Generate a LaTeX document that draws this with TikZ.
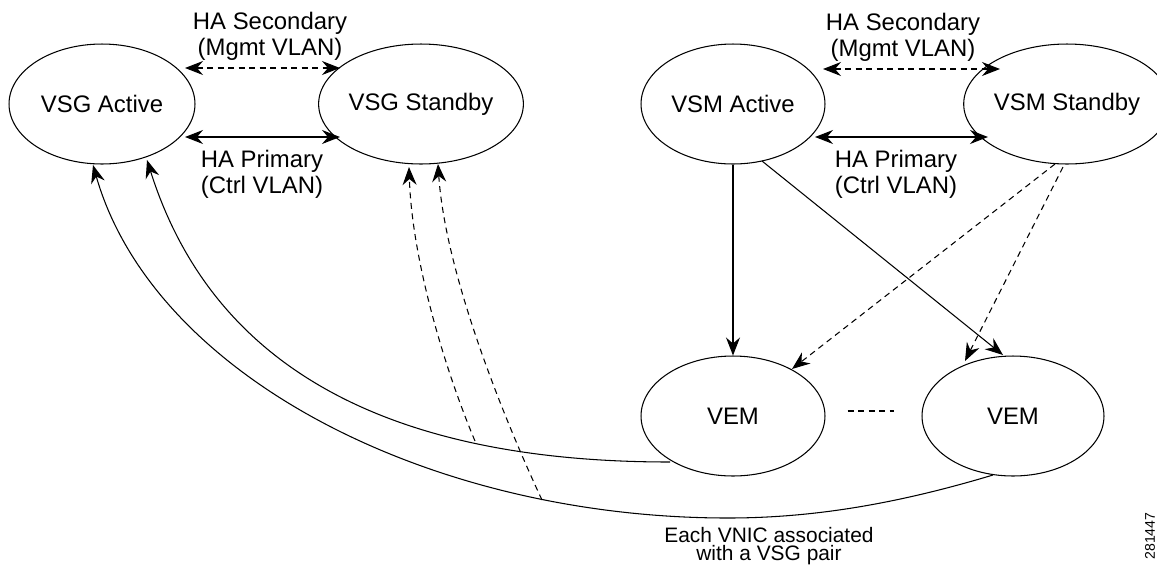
\documentclass[tikz,border=0pt]{standalone}
\usepackage{fontspec}
\setmainfont{Liberation Sans}
\usetikzlibrary{shapes.geometric,arrows.meta,calc}
\begin{document}
\begin{tikzpicture}[x=0.02cm,y=-0.02cm, line width=0.6pt,
  unit/.style={ellipse, draw, inner sep=0pt, minimum width=3.68cm, minimum height=2.4cm, font=\fontsize{13.6}{16}\selectfont},
  headtip/.style={-{Stealth[length=3.6mm,width=2.8mm,inset=1.2mm]}},
  bothtip/.style={{Stealth[length=3.6mm,width=2.8mm,inset=1.2mm]}-{Stealth[length=3.6mm,width=2.8mm,inset=1.2mm]}},
  dashline/.style={dash pattern=on 1.2mm off 0.9mm},
  lbl/.style={align=center, inner sep=0pt, font=\fontsize{13.6}{14.8}\selectfont},
  note/.style={align=center, inner sep=0pt, font=\fontsize{11.9}{10.4}\selectfont}
]
\useasboundingbox (0,0) rectangle (1157,566);

% nodes
\node[unit, minimum width=3.72cm] (vsga) at (102,104) {VSG Active};
\node[unit, minimum width=3.64cm] (vsgs) at (421,104) {VSG Standby};
\node[unit] (vsma) at (733,104) {VSM Active};
\node[unit, minimum width=3.56cm] (vsms) at (1067,104) {VSM Standby};
\node[unit] (vem1) at (733,416) {VEM};
\node[unit, minimum width=3.64cm] (vem2) at (1013,416) {VEM};

% labels
\node[lbl] (ls1) at (270,36) {HA Secondary\\(Mgmt VLAN)};
\node[lbl] (lp1) at (262,174) {HA Primary\\(Ctrl VLAN)};
\node[lbl] (ls2) at (903,37) {HA Secondary\\(Mgmt VLAN)};
\node[lbl] (lp2) at (896,174) {HA Primary\\(Ctrl VLAN)};
\node[note] (nt) at (769,546) {Each VNIC associated\\with a VSG pair};
\node[inner sep=0pt, rotate=90, font=\fontsize{8}{9}\selectfont] (id) at (1150,536) {281447};

% HA links
\draw[bothtip, dashline] ($(vsga.center)+(83,-36)$) -- ($(vsgs.center)+(-81,-36)$);
\draw[bothtip] ($(vsga.center)+(83,33)$) -- ($(vsgs.center)+(-81,33)$);
\draw[bothtip, dashline] ($(vsma.center)+(90,-35)$) -- ($(vsms.center)+(-67,-35)$);
\draw[bothtip] ($(vsma.center)+(82,33)$) -- ($(vsms.center)+(-79,33)$);

% VSM to VEM
\draw[headtip] (vsma.south) -- (vem1.north);
\draw[headtip] ($(vsma.center)+(29,57)$) -- ($(vem2.center)+(-10,-61)$);
\draw[headtip, dashline] ($(vsms.center)+(-12,60)$) -- ($(vem1.center)+(59,-47)$);
\draw[headtip, dashline] ($(vsms.center)+(-4,63)$) -- ($(vem2.center)+(-48,-55)$);
\draw[dashline] ($(vem1.east)+(22,-5)$) -- ($(vem2.west)+(-27,-5)$);

% VEM to VSG
\draw[headtip] ($(vem1.center)+(-63,46)$) .. controls (420,462) and (219,388) .. ($(vsga.center)+(45,56)$);
\draw[headtip] ($(vem2.center)+(-20,59)$) .. controls (903,502) and (818,518) .. (728,518)
   .. controls (428,518) and (153,375) .. ($(vsga.center)+(-9,61)$);
\coordinate (d1) at (475,441);
\coordinate (d2) at (542,500);
\draw[headtip, dashline] (d1) .. controls (445,370) and (412,260) .. ($(vsgs.center)+(-12,63)$);
\draw[headtip, dashline] (d2) .. controls (500,410) and (445,270) .. ($(vsgs.center)+(17,60)$);
\end{tikzpicture}
\end{document}
